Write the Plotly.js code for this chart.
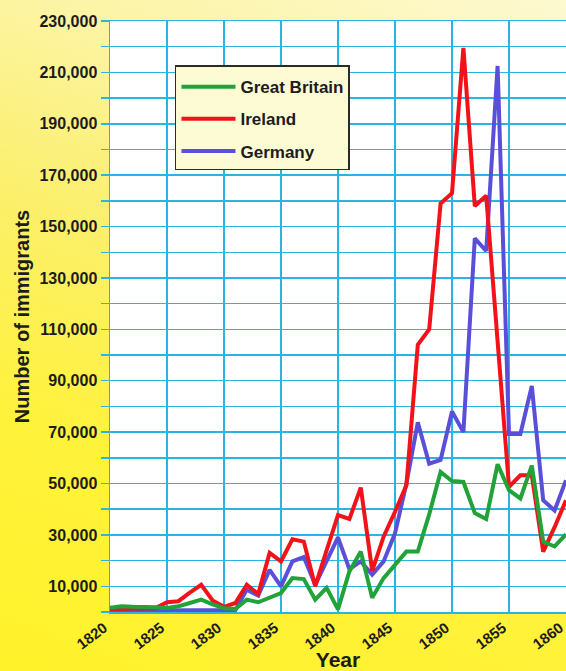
<!DOCTYPE html>
<html>
<head>
<meta charset="utf-8">
<script src="https://cdn.plot.ly/plotly-3.0.1.min.js"></script>
<style>
  html, body { margin: 0; padding: 0; }
  body {
    width: 566px; height: 671px; overflow: hidden;
    background: linear-gradient(200deg, #fdf9d2 0%, #fcf4a4 22%, #fbef6c 45%, #fff23c 70%, #fff22a 100%);
  }
  #chart { width: 566px; height: 671px; }
</style>
</head>
<body>
<div id="chart"></div>
<script>
// ---- Data ----
const years = [1820,1821,1822,1823,1824,1825,1826,1827,1828,1829,
               1830,1831,1832,1833,1834,1835,1836,1837,1838,1839,
               1840,1841,1842,1843,1844,1845,1846,1847,1848,1849,
               1850,1851,1852,1853,1854,1855,1856,1857,1858,1859,1860];

const greatBritain = [1600,2200,2000,2000,1800,1600,2200,3500,4800,3000,
                      1500,1200,4800,3800,5600,7400,13200,12800,4800,9400,
                      1000,15800,23500,5500,13200,18400,23500,23500,38000,54500,
                      51000,50600,38500,36200,57500,47400,44200,57000,27400,25500,30200];

const ireland = [1200,1200,1200,1200,1500,3800,4200,7500,10600,4500,
                 2000,3500,10600,7000,23000,19700,28300,27400,10000,24000,
                 37700,36200,48400,16000,29300,39000,49300,104000,110000,159000,
                 163000,219500,158000,162000,106000,48700,53200,53200,23500,33000,43500];

const germany = [500,500,500,500,500,500,500,500,500,500,
                 500,800,8700,6400,16400,10000,19700,21400,10600,20000,
                 29000,16700,19700,14500,19700,30600,50000,73800,57700,59200,
                 78000,70000,145400,140500,212500,69300,69300,88000,43500,39500,51300];

const seriesNames = ["Great Britain", "Ireland", "Germany"];

const xTickVals = [1820,1825,1830,1835,1840,1845,1850,1855,1860];
const xTickText = ["1820","1825","1830","1835","1840","1845","1850","1855","1860"];

const yTickVals = [0,10000,20000,30000,40000,50000,60000,70000,80000,90000,100000,
                   110000,120000,130000,140000,150000,160000,170000,180000,190000,
                   200000,210000,220000,230000];
const yTickText = ["","10,000","","30,000","","50,000","","70,000","","90,000","",
                   "110,000","","130,000","","150,000","","170,000","","190,000","",
                   "210,000","","230,000"];

// ---- Styling ----
const FONT = "'Liberation Sans', Arial, sans-serif";
const GRID = "#2ab4e4";
const TXT = "#1c1c1c";

const traces = [
  {x: years, y: germany, name: seriesNames[2], legendrank: 3, legendgroup: "g3",
   mode: "lines", line: {color: "#5a4fd8", width: 4}},
  {x: years, y: ireland, name: seriesNames[1], legendrank: 2, legendgroup: "g2",
   mode: "lines", line: {color: "#f2121a", width: 4}},
  {x: years, y: greatBritain, name: seriesNames[0], legendrank: 1, legendgroup: "g1",
   mode: "lines", line: {color: "#21a33a", width: 4}}
];

const layout = {
  width: 566, height: 671,
  margin: {l: 110, r: 0, t: 21, b: 59, pad: 0},
  paper_bgcolor: "rgba(0,0,0,0)",
  plot_bgcolor: "#ffffff",
  font: {family: FONT, color: TXT},
  showlegend: true,
  legend: {
    x: 0.1425, y: 0.9255, xanchor: "left", yanchor: "top",
    bgcolor: "#fdfbd4", bordercolor: "#2a2a2a", borderwidth: 1.5,
    font: {family: FONT, size: 17, weight: "bold", color: TXT},
    title: {text: " ", font: {size: 2}},
    traceorder: "grouped", tracegroupgap: 7, itemwidth: 54,
    entrywidth: 132
  },
  xaxis: {
    range: [1820, 1860],
    tickmode: "array", tickvals: xTickVals, ticktext: xTickText,
    tickangle: -37, ticklabeloverflow: "allow", ticklabelshift: -6,
    tickfont: {family: FONT, size: 15, weight: "bold", color: TXT},
    ticks: "", showgrid: true, gridcolor: GRID, gridwidth: 1.5,
    showline: true, linecolor: GRID, linewidth: 1.5, mirror: true,
    zeroline: false, fixedrange: true,
    title: {text: "Year", font: {family: FONT, size: 21, weight: "bold", color: TXT}, standoff: 6}
  },
  yaxis: {
    range: [0, 230000],
    tickmode: "array", tickvals: yTickVals, ticktext: yTickText,
    tickfont: {family: FONT, size: 16, weight: "bold", color: TXT},
    ticks: "outside", ticklen: 8, tickcolor: GRID, tickwidth: 1.5,
    showgrid: true, gridcolor: GRID, gridwidth: 1.5,
    showline: true, linecolor: GRID, linewidth: 1.5, mirror: true,
    zeroline: false, fixedrange: true,
    title: {text: "Number of immigrants", font: {family: FONT, size: 20, weight: "bold", color: TXT}, standoff: 4}
  }
};

Plotly.newPlot("chart", traces, layout, {displayModeBar: false, staticPlot: true});
</script>
</body>
</html>
